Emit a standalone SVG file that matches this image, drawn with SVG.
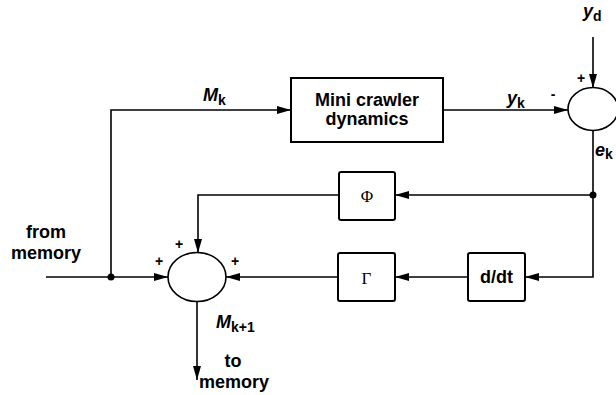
<svg xmlns="http://www.w3.org/2000/svg" width="616" height="395" viewBox="0 0 616 395">
<defs>
<style>
.box{fill:#fff;stroke:#000;stroke-width:2}
.sum{fill:#fff;stroke:#000;stroke-width:1.6}
.ln{fill:none;stroke:#000;stroke-width:1.6}
.t{font-family:"Liberation Sans",Arial,sans-serif;font-weight:bold;font-size:18px;fill:#000}
.g{font-family:"Liberation Serif","Times New Roman",serif;font-size:17px;fill:#000}
.it{font-style:italic}
.sb{font-size:14px;font-style:normal}
.pm{font-family:"Liberation Sans",Arial,sans-serif;font-weight:bold;font-size:14px;fill:#000}
.dot{fill:#000}
</style>
<marker id="ah" viewBox="0 0 14 8" refX="14" refY="4" markerWidth="14" markerHeight="8" markerUnits="userSpaceOnUse" orient="auto">
<path d="M0,0 L14,4 L0,8 Z" fill="#000"/>
</marker>
</defs>
<rect width="616" height="395" fill="#fff"/>
<g id="connectors">
<path class="ln" d="M111,277 V110 H291" marker-end="url(#ah)"/>
<path class="ln" d="M443,110 H568" marker-end="url(#ah)"/>
<path class="ln" d="M593,37 V88" marker-end="url(#ah)"/>
<path class="ln" d="M593,131 V195"/>
<path class="ln" d="M593,195 H395" marker-end="url(#ah)"/>
<path class="ln" d="M593,195 V277 H525" marker-end="url(#ah)"/>
<path class="ln" d="M468,277 H395" marker-end="url(#ah)"/>
<path class="ln" d="M338,277 H226" marker-end="url(#ah)"/>
<path class="ln" d="M339,195 H198 V253" marker-end="url(#ah)"/>
<path class="ln" d="M46,277 H168" marker-end="url(#ah)"/>
<path class="ln" d="M197,302 V380" marker-end="url(#ah)"/>
<circle class="dot" cx="111" cy="277" r="3.5"/>
<circle class="dot" cx="593" cy="195" r="3.5"/>
</g>
<g id="plant">
<rect class="box" x="291" y="78" width="152" height="64"/>
<text class="t" x="367" y="106" text-anchor="middle">Mini crawler</text>
<text class="t" x="367" y="125" text-anchor="middle">dynamics</text>
</g>
<g id="sum-error">
<ellipse class="sum" cx="593" cy="109" rx="25" ry="21.5"/>
<text class="pm" x="581" y="83" text-anchor="middle">+</text>
<text class="pm" x="553" y="99" text-anchor="middle">-</text>
</g>
<g id="phi">
<rect class="box" x="339" y="172" width="56" height="48" rx="2"/>
<text class="g" x="367" y="202" text-anchor="middle">Φ</text>
</g>
<g id="gamma">
<rect class="box" x="338" y="253" width="57" height="48" rx="2"/>
<text class="g" x="366.5" y="284" text-anchor="middle">Γ</text>
</g>
<g id="ddt">
<rect class="box" x="468" y="253" width="57" height="48" rx="2"/>
<text class="t" x="496.5" y="283" text-anchor="middle">d/dt</text>
</g>
<g id="sum-update">
<ellipse class="sum" cx="197" cy="277" rx="29" ry="24.5"/>
<text class="pm" x="179" y="249" text-anchor="middle">+</text>
<text class="pm" x="159" y="266" text-anchor="middle">+</text>
<text class="pm" x="235" y="266" text-anchor="middle">+</text>
</g>
<g id="labels">
<text class="t it" x="203" y="101">M<tspan class="sb" dy="4">k</tspan></text>
<text class="t it" x="507" y="104">y<tspan class="sb" dy="4">k</tspan></text>
<text class="t it" x="583" y="17">y<tspan class="sb" dy="4">d</tspan></text>
<text class="t it" x="595" y="156">e<tspan class="sb" dy="3">k</tspan></text>
<text class="t it" x="216" y="328">M<tspan class="sb" dy="4">k+1</tspan></text>
<text class="t" x="46" y="238" text-anchor="middle">from</text>
<text class="t" x="46" y="259" text-anchor="middle">memory</text>
<text class="t" x="233" y="367" text-anchor="middle">to</text>
<text class="t" x="234" y="388" text-anchor="middle">memory</text>
</g>
</svg>
